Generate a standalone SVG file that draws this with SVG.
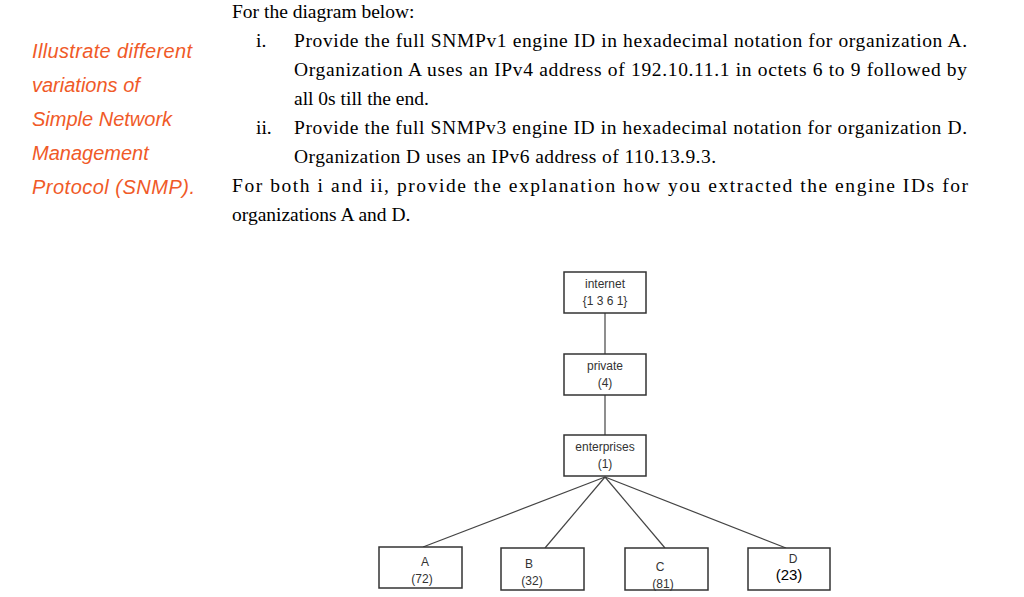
<svg xmlns="http://www.w3.org/2000/svg" width="1024" height="597" viewBox="0 0 1024 597">
<style>
.q{font-family:"Liberation Serif",serif;font-size:19.5px;fill:#000}
.o{font-family:"Liberation Sans",sans-serif;font-size:20px;font-style:italic;fill:#f05a28}
.b{fill:#fff;stroke:#333;stroke-width:1.5}
.t{font-family:"Liberation Sans",sans-serif;font-size:12px;fill:#333;text-anchor:middle}
.c{stroke:#444;stroke-width:1.2;fill:none}
</style>
<rect width="1024" height="597" fill="#fff"/>
<g id="side">
<text class="o" x="32" y="58" textLength="160">Illustrate different</text>
<text class="o" x="32" y="92">variations of</text>
<text class="o" x="32" y="126">Simple Network</text>
<text class="o" x="32" y="160">Management</text>
<text class="o" x="32" y="194" textLength="163">Protocol (SNMP).</text>
</g>
<g id="question">
<text class="q" x="232" y="18">For the diagram below:</text>
<text class="q" x="256" y="47">i.</text>
<text class="q" x="294" y="47" textLength="673">Provide the full SNMPv1 engine ID in hexadecimal notation for organization A.</text>
<text class="q" x="294" y="76" textLength="673">Organization A uses an IPv4 address of 192.10.11.1 in octets 6 to 9 followed by</text>
<text class="q" x="294" y="105">all 0s till the end.</text>
<text class="q" x="256" y="134">ii.</text>
<text class="q" x="294" y="134" textLength="673">Provide the full SNMPv3 engine ID in hexadecimal notation for organization D.</text>
<text class="q" x="294" y="163" textLength="422">Organization D uses an IPv6 address of 110.13.9.3.</text>
<text class="q" x="232" y="192" textLength="736" lengthAdjust="spacing">For both i and ii, provide the explanation how you extracted the engine IDs for</text>
<text class="q" x="232" y="221">organizations A and D.</text>
</g>
<g id="connectors">
<line class="c" x1="605" y1="313" x2="605" y2="354"/>
<line class="c" x1="605" y1="395" x2="605" y2="435"/>
<line class="c" x1="605" y1="477" x2="423" y2="547"/>
<line class="c" x1="605" y1="477" x2="545" y2="548"/>
<line class="c" x1="605" y1="477" x2="665" y2="548"/>
<line class="c" x1="605" y1="477" x2="786" y2="548"/>
</g>
<g id="internet"><rect class="b" x="564" y="272" width="82" height="41"/><text class="t" x="605" y="288">internet</text><text class="t" x="605" y="305">{1 3 6 1}</text></g>
<g id="private"><rect class="b" x="564" y="354" width="82" height="41"/><text class="t" x="605" y="370">private</text><text class="t" x="605" y="387">(4)</text></g>
<g id="enterprises"><rect class="b" x="564" y="435" width="82" height="41"/><text class="t" x="605" y="451">enterprises</text><text class="t" x="605" y="468">(1)</text></g>
<g id="A"><rect class="b" x="379" y="547" width="83" height="41"/><text class="t" x="425" y="566">A</text><text class="t" x="422" y="583">(72)</text></g>
<g id="B"><rect class="b" x="501" y="548" width="83" height="42"/><text class="t" x="529" y="568">B</text><text class="t" x="532" y="585">(32)</text></g>
<g id="C"><rect class="b" x="625" y="548" width="83" height="42"/><text class="t" x="660" y="571">C</text><text class="t" x="663" y="588">(81)</text></g>
<g id="D"><rect class="b" x="748" y="548" width="82" height="42"/><text class="t" x="793" y="563">D</text><text class="t" x="789" y="580" style="font-size:15px;fill:#000">(23)</text></g>
</svg>
